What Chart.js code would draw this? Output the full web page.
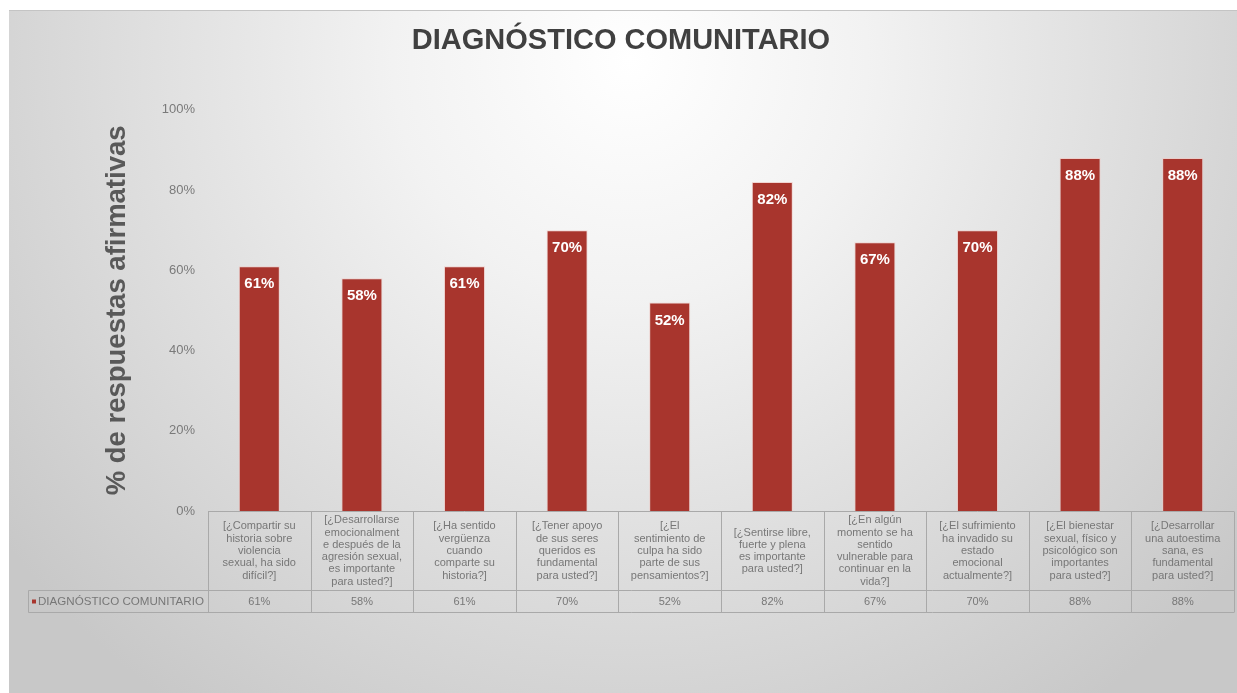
<!DOCTYPE html>
<html>
<head>
<meta charset="utf-8">
<script src="https://cdn.jsdelivr.net/npm/chart.js@4"></script>
<style>
  html, body { margin: 0; padding: 0; background: #fff; }
  canvas { display: block; }
</style>
</head>
<body>
<canvas id="chartDiag" width="1237" height="693"></canvas>
<script>
const chartTitle = "DIAGNÓSTICO COMUNITARIO";
const seriesName = "DIAGNÓSTICO COMUNITARIO";
const yTitle = "% de respuestas afirmativas";

// category labels, already split in lines as in the data table
const categories = [
  ["[¿Compartir su", "historia sobre", "violencia", "sexual, ha sido", "difícil?]"],
  ["[¿Desarrollarse", "emocionalment", "e después de la", "agresión sexual,", "es importante", "para usted?]"],
  ["[¿Ha sentido", "vergüenza", "cuando", "comparte su", "historia?]"],
  ["[¿Tener apoyo", "de sus seres", "queridos es", "fundamental", "para usted?]"],
  ["[¿El", "sentimiento de", "culpa ha sido", "parte de sus", "pensamientos?]"],
  ["[¿Sentirse libre,", "fuerte y plena", "es importante", "para usted?]"],
  ["[¿En algún", "momento se ha", "sentido", "vulnerable para", "continuar en la", "vida?]"],
  ["[¿El sufrimiento", "ha invadido su", "estado", "emocional", "actualmente?]"],
  ["[¿El bienestar", "sexual, físico y", "psicológico son", "importantes", "para usted?]"],
  ["[¿Desarrollar", "una autoestima", "sana, es", "fundamental", "para usted?]"]
];
const values = [61, 58, 61, 70, 52, 82, 67, 70, 88, 88];
const yMin = 0;
const yMax = 100;
const yStep = 20;

const FONT = "'Liberation Sans', Arial, sans-serif";
const barColor = "#a8352d";

// slide background
const bgPlugin = {
  id: "bg",
  beforeDraw(chart) {
    const ctx = chart.ctx;
    const W = chart.width, H = chart.height;
    ctx.save();
    ctx.fillStyle = "#ffffff";
    ctx.fillRect(0, 0, W, H);
    const g = ctx.createRadialGradient(630, 60, 0, 630, 60, 790);
    g.addColorStop(0, "#ffffff");
    g.addColorStop(0.3, "#f2f2f2");
    g.addColorStop(1, "#c8c8c8");
    ctx.fillStyle = g;
    ctx.fillRect(9, 10, W - 9, H - 10);
    ctx.strokeStyle = "#c4c4c4";
    ctx.lineWidth = 1;
    ctx.beginPath();
    ctx.moveTo(9, 10.5);
    ctx.lineTo(W, 10.5);
    ctx.stroke();
    ctx.restore();
  }
};

// white value labels inside the top of each bar
const barLabels = {
  id: "barLabels",
  afterDatasetsDraw(chart) {
    const ctx = chart.ctx;
    const meta = chart.getDatasetMeta(0);
    ctx.save();
    ctx.fillStyle = "#ffffff";
    ctx.font = "bold 15px " + FONT;
    ctx.textAlign = "center";
    ctx.textBaseline = "middle";
    meta.data.forEach((bar, i) => {
      ctx.fillText(values[i] + "%", bar.x, bar.y + 18);
    });
    ctx.restore();
  }
};

// excel style data table under the plot
const dataTable = {
  id: "dataTable",
  afterDraw(chart) {
    const ctx = chart.ctx;
    const area = chart.chartArea;
    const x = chart.scales.x;
    const n = categories.length;
    const w = (area.right - area.left) / n;
    const top = Math.round(area.bottom) + 0.5;
    const mid = top + 79;
    const bot = mid + 22;
    const legLeft = 28.5;

    ctx.save();
    ctx.strokeStyle = "#a9a9a9";
    ctx.lineWidth = 1;
    ctx.beginPath();
    ctx.moveTo(area.left, top); ctx.lineTo(area.right, top);
    ctx.moveTo(legLeft, mid); ctx.lineTo(area.right, mid);
    ctx.moveTo(legLeft, bot); ctx.lineTo(area.right, bot);
    for (let i = 0; i <= n; i++) {
      const xx = Math.round(area.left + i * w) + 0.5;
      ctx.moveTo(xx, top); ctx.lineTo(xx, bot);
    }
    ctx.moveTo(legLeft, mid); ctx.lineTo(legLeft, bot);
    ctx.stroke();

    ctx.fillStyle = "#777777";
    ctx.font = "11px " + FONT;
    ctx.textAlign = "center";
    ctx.textBaseline = "middle";
    const lh = 12.3;
    categories.forEach((lines, i) => {
      const cx = x.getPixelForValue(i);
      const y0 = (top + mid) / 2 - (lines.length - 1) * lh / 2;
      lines.forEach((t, j) => ctx.fillText(t, cx, y0 + j * lh));
    });

    ctx.font = "11px " + FONT;
    values.forEach((v, i) => {
      ctx.fillText(v + "%", x.getPixelForValue(i), (mid + bot) / 2 + 0.5);
    });

    ctx.fillStyle = barColor;
    ctx.fillRect(32, (mid + bot) / 2 - 2, 4, 4);
    ctx.fillStyle = "#777777";
    ctx.textAlign = "left";
    ctx.font = "11.6px " + FONT;
    ctx.fillText(seriesName, 38, (mid + bot) / 2 + 0.5);
    ctx.restore();
  }
};

new Chart(document.getElementById("chartDiag"), {
  type: "bar",
  data: {
    labels: categories,
    datasets: [{
      label: seriesName,
      data: values,
      backgroundColor: barColor,
      borderColor: "rgba(240,200,195,0.7)",
      borderWidth: 1,
      categoryPercentage: 1,
      barPercentage: 0.4
    }]
  },
  options: {
    responsive: false,
    animation: false,
    layout: { padding: { left: 8, right: 3, top: 0, bottom: 174 } },
    plugins: {
      legend: { display: false },
      tooltip: { enabled: false },
      title: {
        display: true,
        text: chartTitle,
        color: "#404040",
        font: { family: FONT, size: 29, weight: "bold" },
        padding: { top: 24, bottom: 51 }
      }
    },
    scales: {
      x: {
        grid: { display: false },
        border: { display: false },
        ticks: { display: false }
      },
      y: {
        min: yMin,
        max: yMax,
        grid: { display: false, drawTicks: false },
        border: { display: false },
        ticks: {
          stepSize: yStep,
          padding: 13,
          color: "#7a7a7a",
          font: { family: FONT, size: 13 },
          callback: v => v + "%"
        },
        title: {
          display: true,
          text: yTitle,
          color: "#595959",
          font: { family: FONT, size: 27.5, weight: "bold" },
          padding: { top: 93, bottom: 0 }
        },
        afterFit(scale) { scale.width = 200; }
      }
    }
  },
  plugins: [bgPlugin, barLabels, dataTable]
});
</script>
</body>
</html>
